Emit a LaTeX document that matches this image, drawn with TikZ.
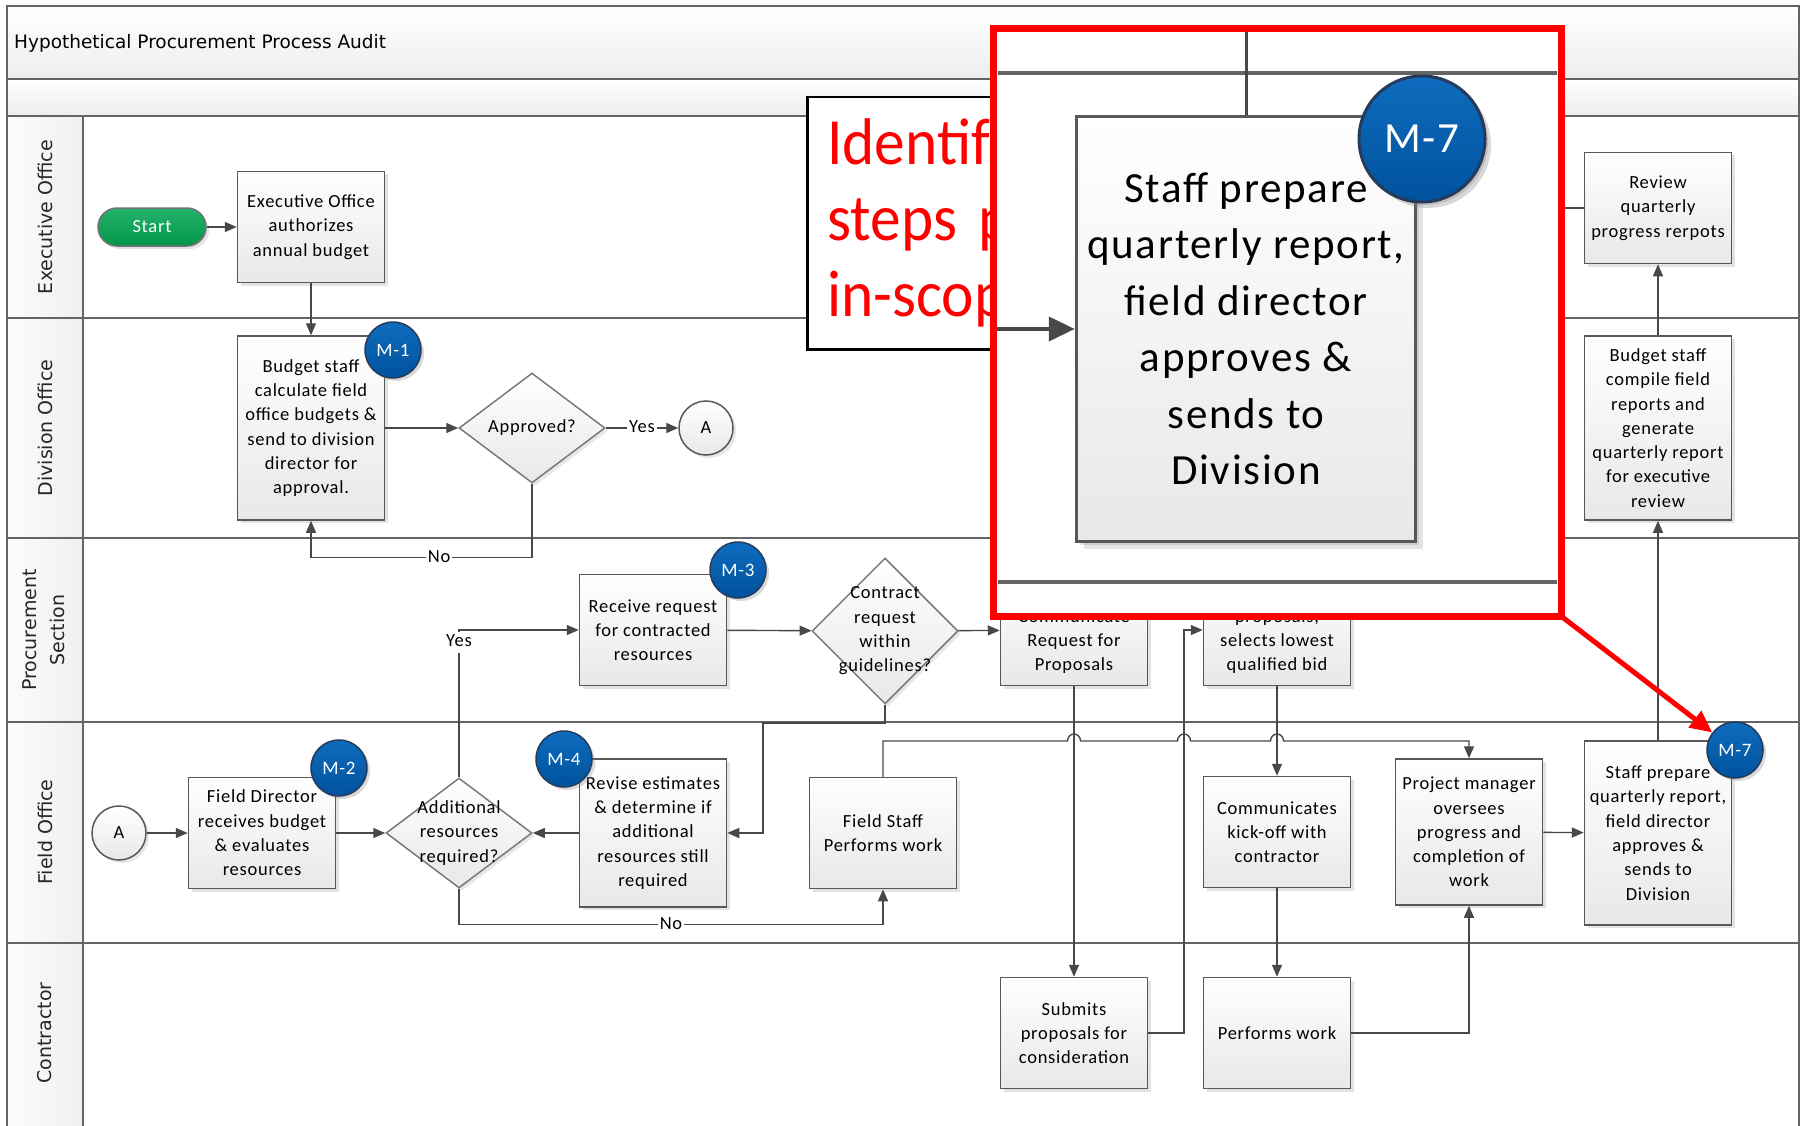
\documentclass[tikz,border=0pt]{standalone}
\usepackage{fontspec}
\setmainfont{Carlito}
\newfontfamily\calibfont[LetterSpace=4]{Carlito}
\newfontfamily\lanefont{DejaVu Sans}
\newfontfamily\notefont[FakeStretch=0.93]{Carlito}
\usetikzlibrary{shapes.geometric,arrows.meta,calc,shadows}
\definecolor{laneGray}{RGB}{100,100,100}
\definecolor{flowGray}{RGB}{72,72,72}
\definecolor{boxEdge}{RGB}{88,88,88}
\definecolor{boxFill}{RGB}{232,232,232}
\definecolor{startGreen}{RGB}{0,166,81}
\definecolor{badgeTop}{RGB}{14,108,190}
\definecolor{badgeBottom}{RGB}{0,82,156}
\definecolor{badgeEdge}{RGB}{38,58,92}
\definecolor{calloutRed}{RGB}{255,0,0}

\tikzset{
  lane/.style={draw=laneGray, line width=2pt},
  lanelabel/.style={rotate=90, align=center, text=black!85,
    font=\lanefont\fontsize{19}{28}\selectfont},
  procbox/.style={draw=boxEdge, line width=1.5pt, top color=white, bottom color=boxFill,
    minimum width=147pt, minimum height=111pt, inner sep=0pt, align=center,
    font=\calibfont\fontsize{18.5}{24.3}\selectfont,
    drop shadow={opacity=0.22, shadow xshift=3pt, shadow yshift=-3pt}},
  decision/.style={diamond, draw=boxEdge!80, line width=1.5pt, top color=white,
    bottom color=boxFill, minimum width=146pt, minimum height=110pt, inner sep=0pt,
    drop shadow={opacity=0.18, shadow xshift=3pt, shadow yshift=-3pt}},
  dtext/.style={align=center, inner sep=0pt, font=\calibfont\fontsize{18.5}{24.3}\selectfont},
  startterm/.style={draw=black!55, line width=1.5pt, rounded corners=19pt,
    top color=startGreen!85!white, bottom color=startGreen!90!black,
    minimum width=108pt, minimum height=38pt, text=white,
    font=\calibfont\fontsize{18.5}{22}\selectfont,
    drop shadow={opacity=0.22, shadow xshift=3pt, shadow yshift=-3pt}},
  offpage/.style={circle, draw=boxEdge, line width=1.5pt, top color=white, bottom color=boxFill,
    minimum size=54pt, inner sep=0pt, font=\calibfont\fontsize{18.5}{22}\selectfont,
    drop shadow={opacity=0.2, shadow xshift=3pt, shadow yshift=-3pt}},
  badge/.style={circle, draw=badgeEdge, line width=1.5pt, top color=badgeTop,
    bottom color=badgeBottom, minimum size=56pt, inner sep=0pt, text=white,
    font=\calibfont\fontsize{19}{22}\selectfont,
    drop shadow={opacity=0.3, shadow xshift=3pt, shadow yshift=-3pt}},
  flow/.style={draw=flowGray, line width=1.4pt, -{Triangle[length=12pt,width=10pt]}},
  link/.style={draw=flowGray, line width=1.4pt},
  lbl/.style={fill=white, inner sep=2pt, text height=13pt, text depth=4pt,
    font=\calibfont\fontsize{18.5}{22}\selectfont},
  notebox/.style={draw=black, line width=2.5pt, fill=white, minimum width=320pt,
    minimum height=252pt, text width=280pt, inner xsep=20pt, align=left, text=calloutRed,
    font=\notefont\fontsize{66}{76}\selectfont},
  zoomframe/.style={draw=calloutRed, line width=7pt},
  zoomlane/.style={draw=laneGray, line width=4.5pt},
  bigflow/.style={draw=flowGray, line width=4pt, -{Triangle[length=26pt,width=24pt]}},
  callout/.style={draw=calloutRed, line width=5pt, -{Triangle[length=22pt,width=20pt]}}
}

\begin{document}
\begin{tikzpicture}[x=1pt, y=-1pt]
  \useasboundingbox (0,0) rectangle (1803,1126);
  % pool and lanes
  \shade[top color=white, bottom color=gray!14] (7,6) rectangle (1799,79);
  \shade[top color=white, bottom color=gray!14] (7,79) rectangle (1799,116);
  \shade[left color=gray!3, right color=gray!12] (7,116) rectangle (83,1130);
  \draw[lane] (7,1130) -- (7,6) -- (1799,6) -- (1799,1130);
  \foreach \y in {79,116,318,538,722,943}
    \draw[lane] (7,\y) -- (1799,\y);
  \draw[lane] (83,116) -- (83,1130);
  \node[anchor=west, inner sep=0pt, font=\lanefont\fontsize{18.5}{22}\selectfont]
    (title) at (14,43) {Hypothetical Procurement Process Audit};
  \node[lanelabel] (lexec) at (45,217) {Executive Office};
  \node[lanelabel] (ldiv) at (45,428) {Division Office};
  \node[lanelabel] (lproc) at (44,630) {Procurement\\Section};
  \node[lanelabel] (lfield) at (45,832) {Field Office};
  \node[lanelabel] (lcontr) at (45,1033) {Contractor};

  % Executive Office
  \node[startterm] (start) at (152,227) {Start};
  \node[procbox] (exec) at (311,227) {Executive Office\\authorizes\\annual budget};
  \node[procbox] (review) at (1658,208) {Review\\quarterly\\progress rerpots};

  % Division Office
  \node[procbox, minimum height=184pt] (budget) at (311,428)
    {Budget staff\\calculate field\\office budgets \&\\send to division\\director for\\approval.};
  \node[decision] (approve) at (532,428) {};
  \node[dtext] (approvetxt) at (approve) {Approved?};
  \node[offpage] (adiv) at (706,428) {A};
  \node[procbox, minimum height=184pt] (compile) at (1658,428)
    {Budget staff\\compile field\\reports and\\generate\\quarterly report\\for executive\\review};

  % Procurement Section
  \node[procbox] (recv) at (653,630) {Receive request\\for contracted\\resources};
  \node[decision, minimum height=146pt] (contract) at (885,631) {};
  \node[dtext] (contracttxt) at (contract) {Contract\\request\\within\\guidelines?};
  \node[procbox] (rfp) at (1074,630) {\vphantom{Ap}\\Communicate\\Request for\\Proposals};
  \node[procbox] (select) at (1277,630) {\vphantom{Ap}\\proposals,\\selects lowest\\qualified bid};

  % Field Office
  \node[offpage] (afield) at (119,833) {A};
  \node[procbox] (fdir) at (262,833) {Field Director\\receives budget\\\& evaluates\\resources};
  \node[decision] (addl) at (459,833) {};
  \node[dtext] (addltxt) at (addl) {Additional\\resources\\required?};
  \node[procbox, minimum height=148pt] (revise) at (653,833)
    {Revise estimates\\\& determine if\\additional\\resources still\\required};
  \node[procbox] (fstaff) at (883,833) {Field Staff\\Performs work};
  \node[procbox] (kickoff) at (1277,832) {Communicates\\kick-off with\\contractor};
  \node[procbox, minimum height=146pt] (pm) at (1469,832)
    {Project manager\\oversees\\progress and\\completion of\\work};
  \node[procbox, minimum height=184pt] (staff) at (1658,833)
    {Staff prepare\\quarterly report,\\field director\\approves \&\\sends to\\Division};

  % Contractor
  \node[procbox] (submit) at (1074,1033) {Submits\\proposals for\\consideration};
  \node[procbox] (perform) at (1277,1033) {Performs work};

  % flows
  \coordinate (cbend) at (763,723);
  \coordinate (bidx) at (1184,0);
  \coordinate (hop) at (0,741);
  \draw[flow] (start) -- (exec);
  \draw[flow] (exec) -- (budget);
  \draw[flow] (budget) -- (approve);
  \draw[flow] (approve) -- node[lbl]{Yes} (adiv);
  \draw[flow] (approve.south) -- ++(0,74) -| node[lbl, pos=0.21]{No} (budget.south);
  \draw[flow] (afield) -- (fdir);
  \draw[flow] (fdir) -- (addl);
  \draw[flow] (revise) -- (addl);
  \draw[flow] (addl.north) |- node[lbl, pos=0.5, yshift=-12pt]{Yes} (recv.west);
  \draw[flow] (addl.south) -- ++(0,36) -| node[lbl, pos=0.25]{No} (fstaff.south);
  \draw[flow] (recv) -- (contract);
  \draw[flow] (contract) -- (rfp);
  \draw[flow] (contract.south) |- (cbend) |- (revise.east);
  \draw[flow] (rfp) -- (submit);
  \draw[flow] (submit.east) -- (submit.east -| bidx) |- (select.west);
  \draw[flow] (select) -- (kickoff);
  \draw[flow] (kickoff) -- (perform);
  \draw[flow] (perform.east) -| (pm.south);
  \draw[flow] (fstaff.north) -- (fstaff.north |- hop)
    -- ($(rfp.south |- hop)+(-6.5,0)$) arc[start angle=180, end angle=360, x radius=6.5, y radius=7]
    -- ($(bidx |- hop)+(-6.5,0)$) arc[start angle=180, end angle=360, x radius=6.5, y radius=7]
    -- ($(select.south |- hop)+(-6.5,0)$) arc[start angle=180, end angle=360, x radius=6.5, y radius=7]
    -| (pm.north);
  \draw[flow] (pm) -- (staff);
  \draw[flow] (staff) -- (compile);
  \draw[flow] (compile) -- (review);
  \draw[link] (review.west) -- ++(-40,0);

  % control badges
  \node[badge] (m1) at (393,350) {M-1};
  \node[badge] (m2) at (339,768) {M-2};
  \node[badge] (m3) at (738,570) {M-3};
  \node[badge] (m4) at (564,759) {M-4};
  \node[badge] (m7) at (1735,750) {M-7};

  % note and magnified view
  \node[notebox, anchor=north west] (note) at (806,96) {Identif\\steps p\\in-scop};
  \node[fill=white, minimum width=567pt, minimum height=587pt, inner sep=0pt]
    (zoom) at (1277.5,322.5) {};
  \coordinate (ztop) at (0,73);
  \coordinate (zbot) at (0,582);
  \draw[zoomlane] ($(zoom.west |- ztop)+(4,0)$) -- ($(zoom.east |- ztop)+(-4,0)$);
  \draw[zoomlane] ($(zoom.west |- zbot)+(4,0)$) -- ($(zoom.east |- zbot)+(-4,0)$);
  \node[procbox, minimum width=339pt, minimum height=425pt, line width=3.5pt,
    font=\calibfont\fontsize{43}{56.5}\selectfont,
    drop shadow={opacity=0.22, shadow xshift=7pt, shadow yshift=-7pt}]
    (bigstaff) at (1246,329)
    {Staff prepare\\quarterly report,\\field director\\approves \&\\sends to\\Division};
  \draw[link, line width=3pt] (bigstaff.north) -- (bigstaff.north |- zoom.north);
  \draw[bigflow] (zoom.west |- bigstaff.west) -- (bigstaff.west);
  \node[badge, minimum size=126pt, line width=3pt, font=\calibfont\fontsize{43}{50}\selectfont,
    drop shadow={opacity=0.3, shadow xshift=6pt, shadow yshift=-6pt}]
    (bigm7) at (1422,139) {M-7};
  \draw[zoomframe] (zoom.north west) rectangle (zoom.south east);
  \draw[callout] (zoom.south east) -- (m7);
\end{tikzpicture}
\end{document}
